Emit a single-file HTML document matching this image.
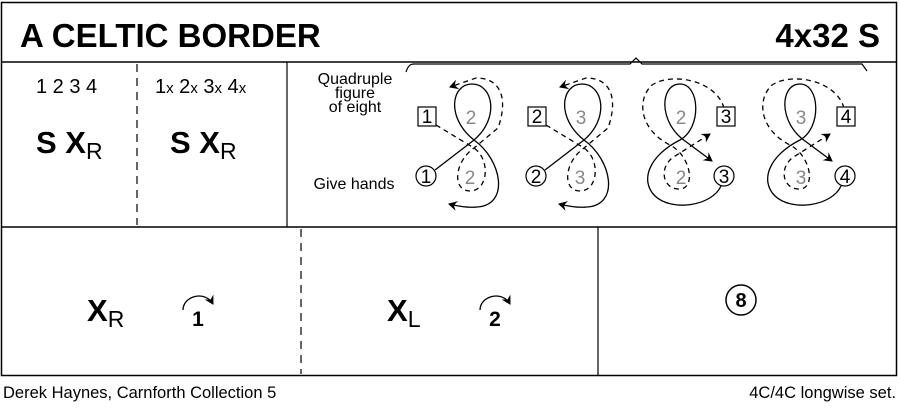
<!DOCTYPE html>
<html><head><meta charset="utf-8"><style>
body{margin:0;background:#fff}
svg{display:block;font-family:"Liberation Sans",Arial,sans-serif}
</style></head><body>
<svg width="900" height="408" viewBox="0 0 900 408">
<defs>
<marker id="ah" markerWidth="10" markerHeight="10" refX="8" refY="5" orient="auto" markerUnits="userSpaceOnUse">
<path d="M0,0 L9,5 L0,10 L3,5 Z" fill="#000"/></marker>
<g id="u12">
<path d="M435,170 L474,140 C500,118 493,84 472,84 C451,84 446,118 474,140 C502,160 510,205 477,207 C467,208 457,206 449,204" fill="none" stroke="#000" stroke-width="1.3" marker-end="url(#ah)"/>
<path d="M436,125 L474,148 C491,160 488,191 470,191 C452,191 454,162 474,148 L498,128 C508,100 502,78 476,78 L450,87" fill="none" stroke="#000" stroke-width="1.3" stroke-dasharray="5,4" marker-end="url(#ah)"/>
</g>
<g id="u34">
<path d="M721,186 C712,206 672,212 655,196 C639,180 650,155 680,140 C702,128 700,84 680,84 C660,84 658,122 685,141 L712,161" fill="none" stroke="#000" stroke-width="1.3" marker-end="url(#ah)"/>
<path d="M724,108 C716,80 672,72 652,85 C636,100 640,130 670,145 C691,156 696,188 680,189 C664,190 658,170 672,158 L710,134" fill="none" stroke="#000" stroke-width="1.3" stroke-dasharray="5,4" marker-end="url(#ah)"/>
</g>
</defs>
<rect x="1.5" y="2.5" width="895" height="373" fill="none" stroke="#000" stroke-width="1.5"/>
<line x1="1" y1="62" x2="897" y2="62" stroke="#000" stroke-width="1.5"/>
<line x1="1" y1="227" x2="897" y2="227" stroke="#000" stroke-width="1.5"/>
<line x1="287" y1="62" x2="287" y2="227" stroke="#000" stroke-width="1.2"/>
<line x1="137" y1="64" x2="137" y2="225" stroke="#000" stroke-width="1.2" stroke-dasharray="8,6"/>
<line x1="301" y1="229" x2="301" y2="374" stroke="#000" stroke-width="1.2" stroke-dasharray="8,6"/>
<line x1="598" y1="227" x2="598" y2="375" stroke="#000" stroke-width="1.2"/>
<text x="20" y="47" font-size="33" font-weight="bold">A CELTIC BORDER</text>
<text x="880" y="47" font-size="33" font-weight="bold" text-anchor="end">4x32 S</text>
<text x="36" y="93" font-size="20">1 2 3 4</text>
<text x="155" y="93" font-size="20">1<tspan font-size="15">x</tspan> 2<tspan font-size="15">x</tspan> 3<tspan font-size="15">x</tspan> 4<tspan font-size="15">x</tspan></text>
<text x="36" y="153" font-size="31" font-weight="bold">S X<tspan font-size="23" font-weight="normal" dy="6">R</tspan></text>
<text x="170" y="153" font-size="31" font-weight="bold">S X<tspan font-size="23" font-weight="normal" dy="6">R</tspan></text>
<text x="355" y="84" font-size="16" text-anchor="middle">Quadruple</text>
<text x="355" y="98" font-size="16" text-anchor="middle">figure</text>
<text x="355" y="112" font-size="16" text-anchor="middle">of eight</text>
<text x="354" y="189" font-size="16" text-anchor="middle">Give hands</text>
<path d="M406,72 C408,66 410,64 414,64 L630,64 L636,58 L642,64 L862,64 L867,71" fill="none" stroke="#000" stroke-width="1.2"/>
<use href="#u12"/>
<use href="#u12" transform="translate(110,0)"/>
<use href="#u34"/>
<use href="#u34" transform="translate(120,0)"/>
<g font-size="19" text-anchor="middle">
<rect x="418" y="107" width="18" height="19" fill="#fff" stroke="#000" stroke-width="1.2"/><text x="427" y="123">1</text>
<rect x="528" y="107" width="18" height="19" fill="#fff" stroke="#000" stroke-width="1.2"/><text x="537" y="123">2</text>
<rect x="717" y="107" width="18" height="19" fill="#fff" stroke="#000" stroke-width="1.2"/><text x="726" y="123">3</text>
<rect x="837" y="107" width="18" height="19" fill="#fff" stroke="#000" stroke-width="1.2"/><text x="846" y="123">4</text>
<circle cx="426" cy="176" r="10" fill="#fff" stroke="#000" stroke-width="1.2"/><text x="426" y="183">1</text>
<circle cx="536" cy="176" r="10" fill="#fff" stroke="#000" stroke-width="1.2"/><text x="536" y="183">2</text>
<circle cx="724" cy="176" r="10" fill="#fff" stroke="#000" stroke-width="1.2"/><text x="724" y="183">3</text>
<circle cx="845" cy="176" r="10" fill="#fff" stroke="#000" stroke-width="1.2"/><text x="845" y="183">4</text>
<g fill="#888"><text x="471" y="124">2</text><text x="470" y="184">2</text><text x="581" y="124">3</text><text x="580" y="184">3</text>
<text x="681" y="124">2</text><text x="681" y="184">2</text><text x="801" y="124">3</text><text x="801" y="184">3</text></g>
</g>
<text x="87" y="321" font-size="31" font-weight="bold">X<tspan font-size="23" font-weight="normal" dy="6">R</tspan></text>
<text x="387" y="321" font-size="31" font-weight="bold">X<tspan font-size="23" font-weight="normal" dy="6">L</tspan></text>
<path d="M183,310 C183,296 205,290 213,304" fill="none" stroke="#000" stroke-width="1.3" marker-end="url(#ah)"/>
<text x="198" y="326" font-size="21" font-weight="bold" text-anchor="middle">1</text>
<path d="M480,310 C480,296 502,290 510,304" fill="none" stroke="#000" stroke-width="1.3" marker-end="url(#ah)"/>
<text x="495" y="326" font-size="21" font-weight="bold" text-anchor="middle">2</text>
<circle cx="741" cy="300" r="15" fill="none" stroke="#000" stroke-width="1.5"/>
<text x="741" y="307" font-size="20" font-weight="bold" text-anchor="middle">8</text>
<text x="3" y="398" font-size="16.5">Derek Haynes, Carnforth Collection 5</text>
<text x="896" y="398" font-size="16.5" text-anchor="end">4C/4C longwise set.</text>
</svg>
</body></html>
